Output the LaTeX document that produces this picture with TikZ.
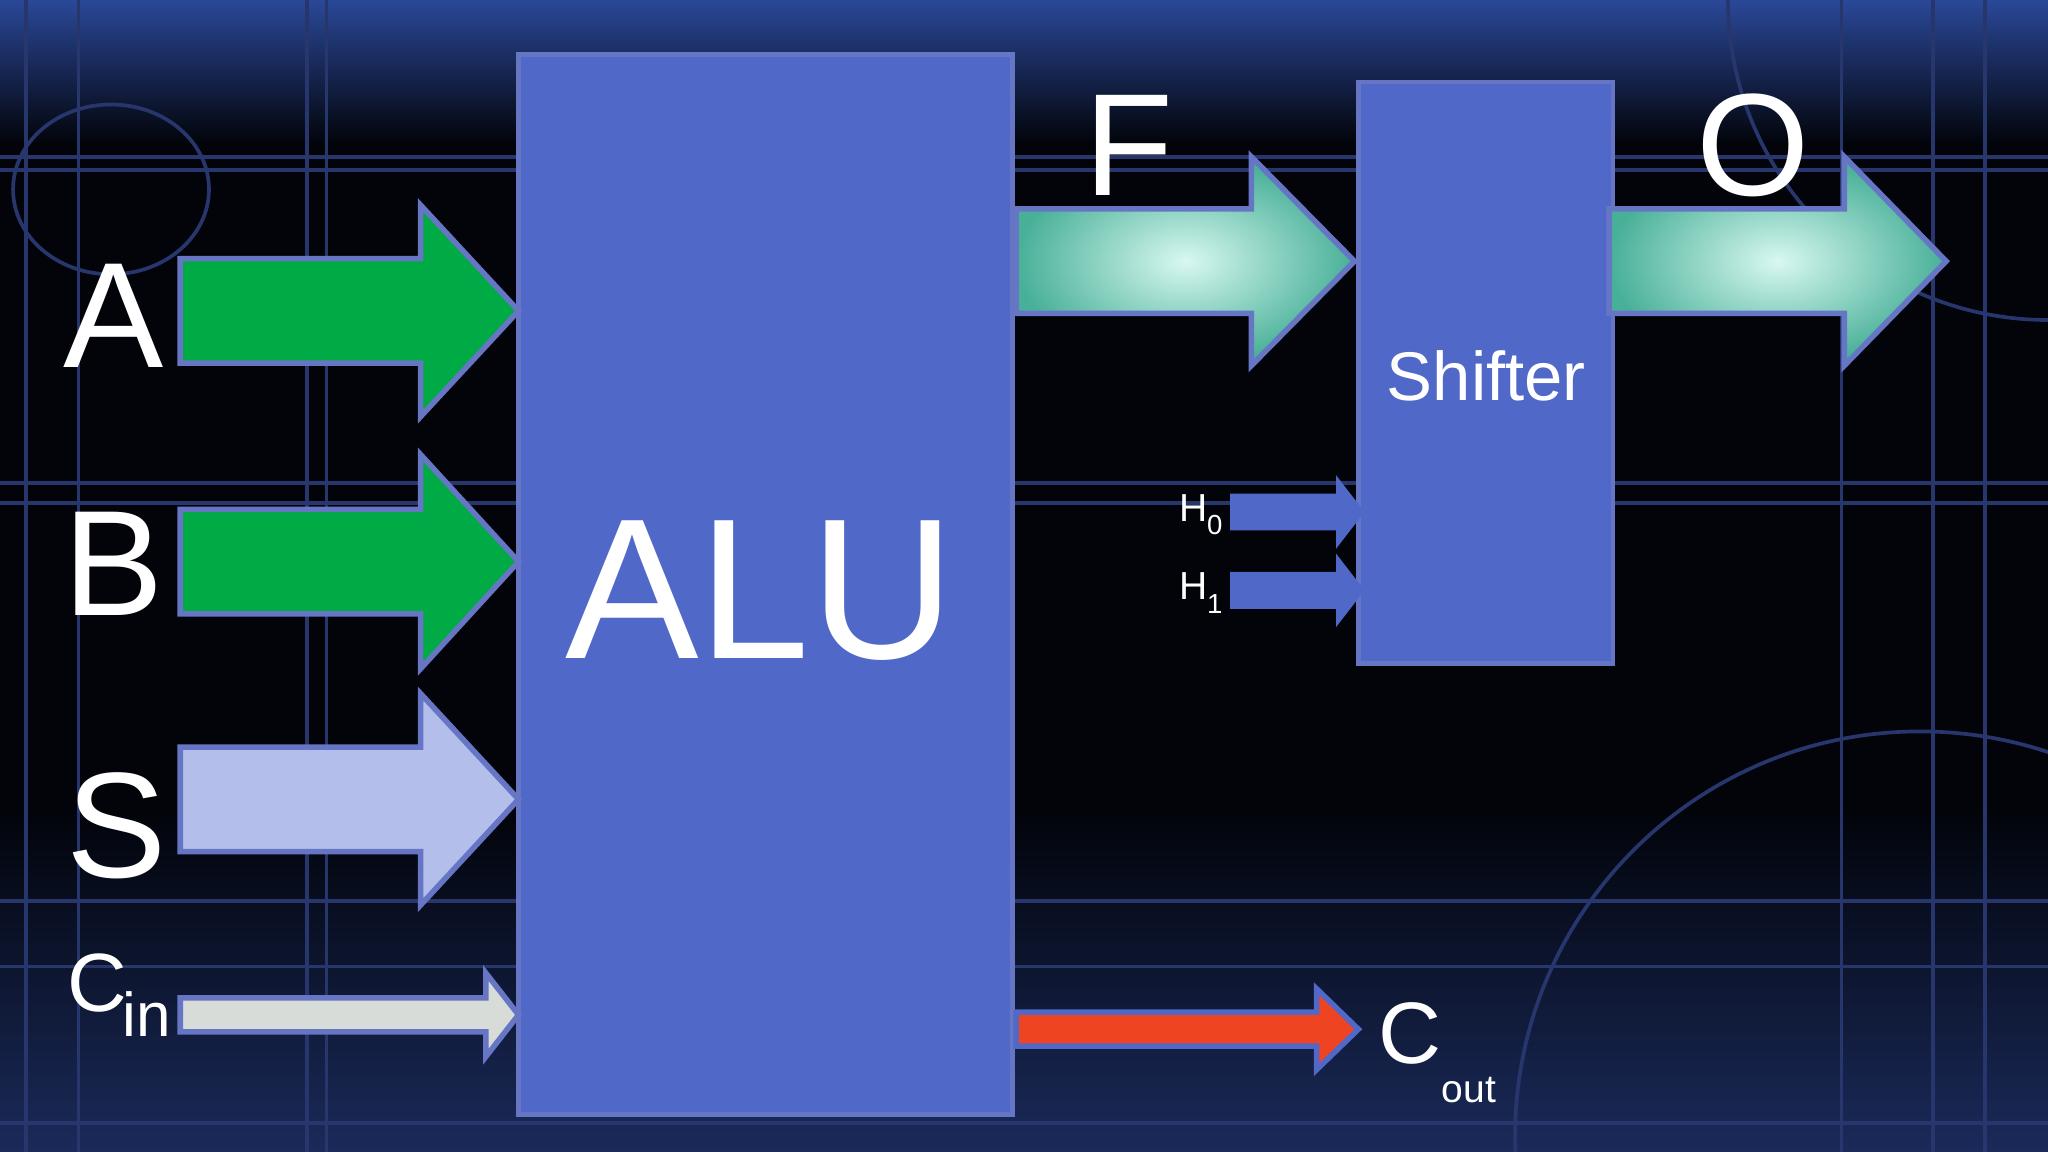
\documentclass[tikz,border=0pt]{standalone}
\usepackage{fontspec}
\setmainfont{Liberation Sans}
\begin{document}
\begin{tikzpicture}[x=0.01cm,y=-0.01cm]
\definecolor{bg}{HTML}{02040A}
\definecolor{grid}{HTML}{28366E}
\definecolor{blk}{HTML}{5068C8}
\definecolor{edge}{HTML}{6676C4}
\definecolor{grn}{HTML}{00AA44}
\definecolor{lav}{HTML}{B4BEEA}
\definecolor{lgr}{HTML}{D8DCD8}
\definecolor{red}{HTML}{EE4422}
\definecolor{tealA}{HTML}{D8F8F0}
\definecolor{tealB}{HTML}{48B098}
\definecolor{top}{HTML}{2A4898}
\definecolor{bot}{HTML}{1A2A5A}
\tikzset{gl/.style={draw=grid,line width=0.8pt},
 lbl/.style={text=white,inner sep=0pt,anchor=center},
 blkbox/.style={draw=edge,fill=blk,line width=1pt,inner sep=0pt},
 arr/.style={draw=edge,line width=1.2pt}}
\newcommand{\harrow}[7]{\path[arr,#1] (#2,#5-#6) -- (#3,#5-#6) -- (#3,#5-#7) -- (#4,#5) -- (#3,#5+#7) -- (#3,#5+#6) -- (#2,#5+#6) -- cycle;}
\useasboundingbox (0,0) rectangle (1568,882);
\fill[bg] (0,0) rectangle (1568,882);
\shade[top color=top,bottom color=bg] (0,0) rectangle (1568,110);
\shade[top color=bg,bottom color=bot] (0,620) rectangle (1568,882);
% grid
\foreach \x in {20,60,235,250,1410,1480,1520} \draw[gl] (\x,0) -- (\x,882);
\foreach \y in {120,130,370,385,690,740,860} \draw[gl] (0,\y) -- (1568,\y);
\draw[gl] (85,145) ellipse (75 and 65);
\draw[gl] (1470,870) circle (310);
\draw[gl] (1323,0) arc (180:90:245);
% blocks
\node[blkbox,minimum width=3.78cm,minimum height=8.11cm] (alu) at (586,447.5) {};
\node[lbl,font=\fontsize{43.6}{44}\selectfont] at (582,452) {ALU};
\node[blkbox,minimum width=1.95cm,minimum height=4.45cm] (sh) at (1137.5,285.5) {};
\node[lbl,font=\fontsize{15}{16}\selectfont] at (1138,288) {Shifter};
% arrows
\harrow{fill=grn}{138}{322}{397}{238}{40}{81}
\harrow{fill=grn}{138}{322}{397}{430}{40}{82}
\harrow{fill=lav}{138}{322}{397}{612}{40}{81}
\harrow{fill=lgr}{138}{372}{397}{777}{13}{32}
\harrow{inner color=tealA,outer color=tealB}{778}{958}{1037}{200}{40}{80}
\harrow{inner color=tealA,outer color=tealB}{1232}{1412}{1490}{200}{40}{80}
\harrow{fill=red,draw=blk}{778}{1008}{1040}{788}{13}{31}
\harrow{fill=blk,draw=blk}{944}{1025}{1042}{392}{12}{22}
\harrow{fill=blk,draw=blk}{944}{1025}{1042}{452}{12}{22}
% labels
\node[lbl,font=\fontsize{32.7}{33}\selectfont] (la) at (87,242) {A};
\node[lbl,font=\fontsize{32.7}{33}\selectfont] (lb) at (87,432) {B};
\node[lbl,font=\fontsize{32.7}{33}\selectfont] (ls) at (89,632) {S};
\node[lbl,font=\fontsize{31.7}{32}\selectfont] (lf) at (864,111) {F};
\node[lbl,font=\fontsize{31.7}{32}\selectfont] (lo) at (1342,111) {O};
\node[lbl,anchor=west,font=\fontsize{18}{18}\selectfont] (lc) at (51,762) {C\kern-1pt\raisebox{-0.3em}{\fontsize{13.5}{14}\selectfont in}};
\node[lbl,anchor=west,font=\fontsize{19}{19}\selectfont] (lco) at (1055,806) {C\raisebox{-0.45em}{\fontsize{8.5}{9}\selectfont out}};
\node[lbl,anchor=west,font=\fontsize{8.5}{9}\selectfont] (h0) at (902,394) {H\raisebox{-0.35em}{\fontsize{6}{6}\selectfont 0}};
\node[lbl,anchor=west,font=\fontsize{8.5}{9}\selectfont] (h1) at (902,454) {H\raisebox{-0.35em}{\fontsize{6}{6}\selectfont 1}};
\end{tikzpicture}
\end{document}
